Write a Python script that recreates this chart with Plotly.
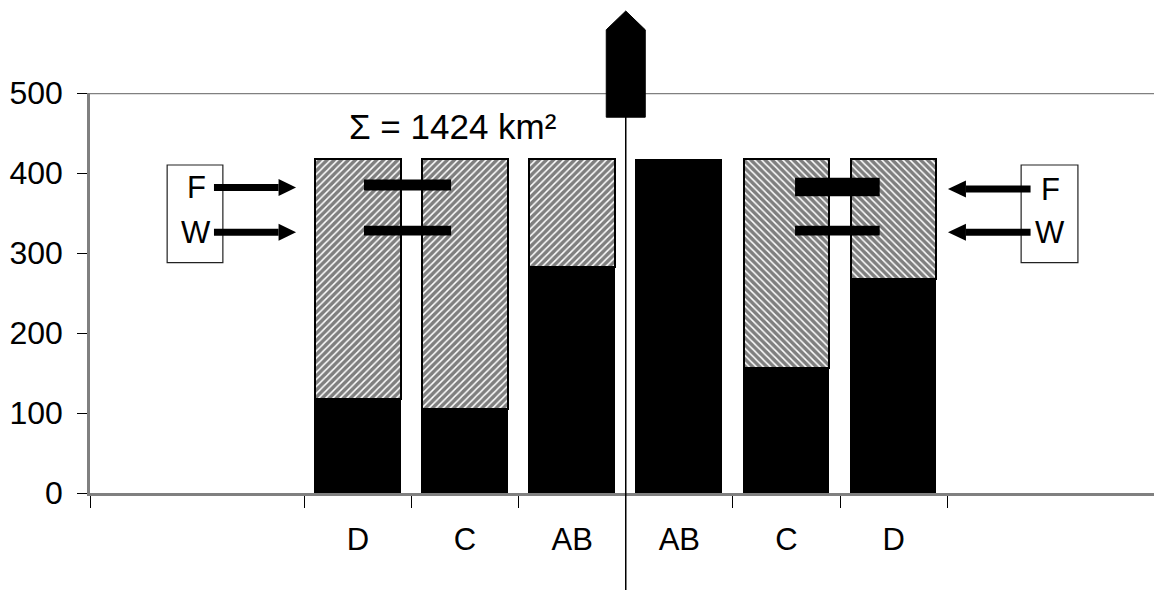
import plotly.graph_objects as go

# ---------------- data ----------------
categories = ["D", "C", "AB", "AB", "C", "D"]
first_slot = 2                      # two empty slots before the first bar
n_slots_visible = 9.93
black_part = [117, 105, 282, 416, 156, 267]     # lower (solid black) part
hatched_part = [300, 312, 135, 0, 261, 150]      # upper (hatched) part
hatch_shapes = ["/", "/", "/", "\\", "\\", "\\"]
y_ticks = [0, 100, 200, 300, 400, 500]
slot_edges = [0, 2, 3, 4, 5, 6, 7, 8]
sum_label = "Σ = 1424 km²"

# F / W reference bands (value ranges)
band_left_F = (378, 392)
band_left_W = (322, 334)
band_right_F = (371, 394)
band_right_W = (322, 334)
arrow_F_left, arrow_W_left = 382, 326
arrow_F_right, arrow_W_right = 380, 326

x_centers = [first_slot + i + 0.5 for i in range(len(categories))]

FONT = "Arial, Liberation Sans, sans-serif"

fig = go.Figure()
fig.add_trace(go.Bar(
    x=x_centers, y=black_part, width=0.8,
    marker=dict(color="black", line=dict(color="black", width=1.5)),
    showlegend=False, hoverinfo="skip"))
fig.add_trace(go.Bar(
    x=x_centers, y=hatched_part, width=0.8,
    marker=dict(color="white", line=dict(color="black", width=2),
                pattern=dict(shape=hatch_shapes, fgcolor="black", bgcolor="white",
                             size=5, solidity=0.7, fillmode="overlay")),
    showlegend=False, hoverinfo="skip"))

shapes = []
# top border line at 500
shapes.append(dict(type="line", xref="paper", yref="y", x0=0, x1=1, y0=500, y1=500,
                   line=dict(color="#808080", width=2.5), layer="below"))
# reference bands between bars
for (x0, x1), (y0, y1) in [((2.557, 3.37), band_left_F), ((2.557, 3.37), band_left_W),
                           ((6.58, 7.37), band_right_F), ((6.58, 7.37), band_right_W)]:
    shapes.append(dict(type="rect", xref="x", yref="y", x0=x0, x1=x1, y0=y0, y1=y1,
                       fillcolor="black", line=dict(width=0)))
# F/W boxes
for x0, x1 in [(0.72, 1.24), (8.69, 9.22)]:
    shapes.append(dict(type="rect", xref="x", yref="y", x0=x0, x1=x1, y0=288, y1=410,
                       fillcolor="white", line=dict(color="#222", width=1.2), layer="below"))
# arrows
def arrow(x_start, x_base, x_tip, y, half_h=10.6):
    shapes.append(dict(type="line", xref="x", yref="y", x0=x_start, x1=x_base, y0=y, y1=y,
                       line=dict(color="black", width=7)))
    shapes.append(dict(type="path", xref="x", yref="y",
                       path=f"M {x_base},{y - half_h} L {x_tip},{y} L {x_base},{y + half_h} Z",
                       fillcolor="black", line=dict(width=0)))
arrow(1.157, 1.76, 1.923, arrow_F_left)
arrow(1.157, 1.76, 1.923, arrow_W_left)
arrow(8.778, 8.175, 8.007, arrow_F_right)
arrow(8.778, 8.175, 8.007, arrow_W_right)
# central divider and upward arrow
shapes.append(dict(type="line", xref="x", yref="paper", x0=5, x1=5, y0=-0.245, y1=0.94,
                   line=dict(color="black", width=1.5)))
shapes.append(dict(type="path", xref="x", yref="paper",
                   path="M 4.818,0.9395 L 4.818,1.158 L 5.0,1.205 L 5.182,1.158 L 5.182,0.9395 Z",
                   fillcolor="black", line=dict(color="black", width=1)))

annotations = [
    dict(x=3.38, y=458, xref="x", yref="y", text=sum_label, showarrow=False,
         font=dict(family=FONT, size=35, color="black")),
]
for x, lab_y, t in [(0.99, arrow_F_left, "F"), (0.99, arrow_W_left, "W"),
                    (8.96, arrow_F_right, "F"), (8.96, arrow_W_right, "W")]:
    annotations.append(dict(x=x, y=lab_y, xref="x", yref="y", text=t, showarrow=False,
                            font=dict(family=FONT, size=31, color="black")))

fig.update_layout(
    width=1154, height=590, autosize=False,
    margin=dict(l=90, r=0, t=93, b=97),
    paper_bgcolor="white", plot_bgcolor="white",
    barmode="stack", bargap=0,
    shapes=shapes, annotations=annotations,
    font=dict(family=FONT, size=30, color="black"),
    xaxis=dict(range=[0, n_slots_visible], showgrid=False, zeroline=False,
               showline=True, linecolor="#808080", linewidth=3,
               tickmode="array", tickvals=x_centers, ticktext=categories,
               ticks="", ticklabelstandoff=17,
               tickfont=dict(family=FONT, size=31, color="black"),
               minor=dict(tickmode="array", tickvals=slot_edges, ticks="outside",
                          ticklen=12, tickwidth=1, tickcolor="black", showgrid=False)),
    yaxis=dict(range=[0, 500], showgrid=False, zeroline=False,
               showline=True, linecolor="#808080", linewidth=2.5,
               tickmode="array", tickvals=y_ticks,
               ticks="outside", ticklen=10, tickwidth=1, tickcolor="black",
               ticklabelstandoff=8,
               tickfont=dict(family=FONT, size=32, color="black")),
)

fig.write_html("out.html", config={"displayModeBar": False},
               post_script="document.body.style.margin='0';document.body.style.overflow='hidden';")
